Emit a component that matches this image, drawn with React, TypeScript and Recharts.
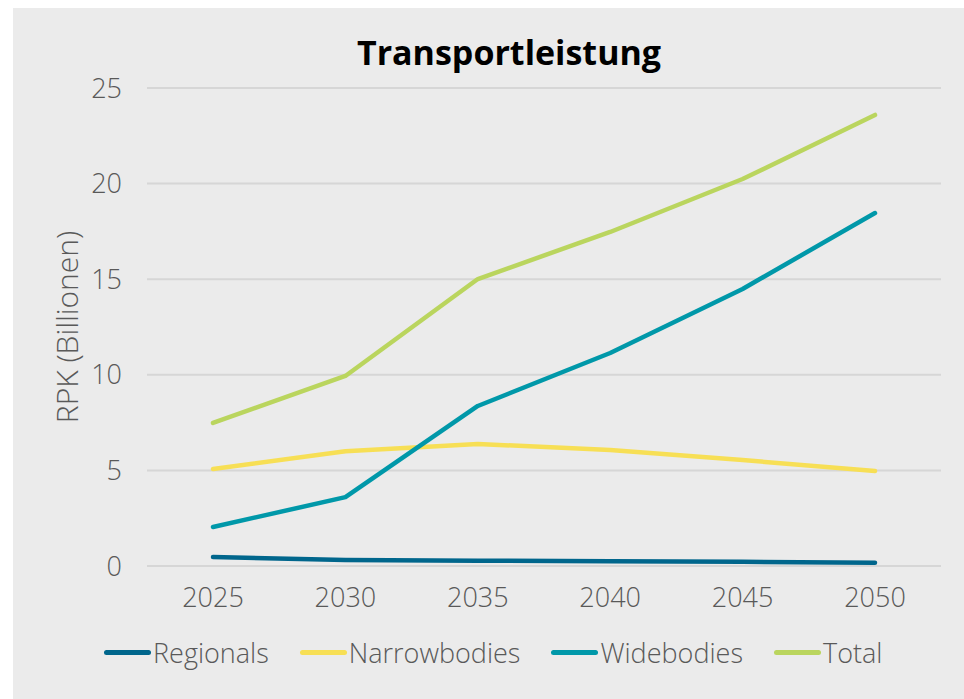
import { LineChart, Line, XAxis, YAxis, CartesianGrid } from 'recharts';

const years = ['2025', '2030', '2035', '2040', '2045', '2050'];
const regionals = [0.47, 0.32, 0.28, 0.25, 0.22, 0.17];
const narrowbodies = [5.07, 6.0, 6.38, 6.07, 5.54, 4.97];
const widebodies = [2.04, 3.6, 8.37, 11.14, 14.49, 18.46];
const total = [7.48, 9.94, 15.01, 17.47, 20.24, 23.59];
const yTicks = [0, 5, 10, 15, 20, 25];

const seriesNames = ['Regionals', 'Narrowbodies', 'Widebodies', 'Total'];
const seriesColors = ['#00668c', '#f7df55', '#0098a9', '#bad55e'];

const data = years.map((year, i) => ({
    year,
    Regionals: regionals[i],
    Narrowbodies: narrowbodies[i],
    Widebodies: widebodies[i],
    Total: total[i],
}));

const FONT = '"Open Sans", "Noto Sans", sans-serif';
const TEXT_GREY = '#595959';

// rotated y axis title, centred on the plot height
const YLabel = (props: any) => {
    const { viewBox } = props;
    const cx = viewBox.x + 53;
    const cy = viewBox.y + viewBox.height / 2;
    return (
        <text
            x={cx}
            y={cy}
            transform={`rotate(-90, ${cx}, ${cy})`}
            textAnchor="middle"
            dominantBaseline="central"
            fill={TEXT_GREY}
            fontSize={30}
            fontWeight={300}
            fontFamily={FONT}
        >
            RPK (Billionen)
        </text>
    );
};

export default function App() {
    return (
        <div style={{ position: 'absolute', top: 0, left: 0, width: 964, height: 699, background: '#fff', fontFamily: FONT }}>
            <div style={{ position: 'absolute', left: 13, top: 8, width: 951, height: 691, background: '#ebebeb' }}>
                <div
                    style={{
                        position: 'absolute',
                        top: 24,
                        left: 0,
                        width: 992,
                        textAlign: 'center',
                        fontSize: 34,
                        fontWeight: 700,
                        lineHeight: '40px',
                        color: '#000',
                    }}
                >
                    Transportleistung
                </div>

                <LineChart
                    width={951}
                    height={691}
                    data={data}
                    margin={{ top: 80, right: 23, bottom: 73, left: 0 }}
                >
                    <CartesianGrid vertical={false} stroke="#d6d6d6" strokeWidth={2} />
                    <XAxis
                        dataKey="year"
                        axisLine={false}
                        tickLine={false}
                        height={60}
                        padding={{ left: 66, right: 66 }}
                        tick={{ fill: TEXT_GREY, fontSize: 27, fontWeight: 300, fontFamily: FONT }}
                        tickMargin={16}
                    />
                    <YAxis
                        width={134}
                        domain={[0, 25]}
                        ticks={yTicks}
                        axisLine={false}
                        tickLine={false}
                        tick={{ fill: TEXT_GREY, fontSize: 27, fontWeight: 300, fontFamily: FONT }}
                        tickMargin={19}
                        label={<YLabel />}
                    />
                    {seriesNames.map((name, i) => (
                        <Line
                            key={name}
                            type="linear"
                            dataKey={name}
                            stroke={seriesColors[i]}
                            strokeWidth={4.5}
                            strokeLinecap="round"
                            strokeLinejoin="round"
                            dot={false}
                            activeDot={false}
                            isAnimationActive={false}
                        />
                    ))}
                </LineChart>

                <div
                    style={{
                        position: 'absolute',
                        left: 91,
                        top: 626,
                        display: 'flex',
                        alignItems: 'center',
                        gap: 31,
                        fontSize: 27,
                        fontWeight: 300,
                        color: TEXT_GREY,
                    }}
                >
                    {seriesNames.map((name, i) => (
                        <div key={name} style={{ display: 'flex', alignItems: 'center' }}>
                            <span
                                style={{
                                    display: 'inline-block',
                                    width: 47,
                                    height: 5,
                                    borderRadius: 3,
                                    background: seriesColors[i],
                                    marginRight: 2,
                                }}
                            />
                            <span>{name}</span>
                        </div>
                    ))}
                </div>
            </div>
        </div>
    );
}
